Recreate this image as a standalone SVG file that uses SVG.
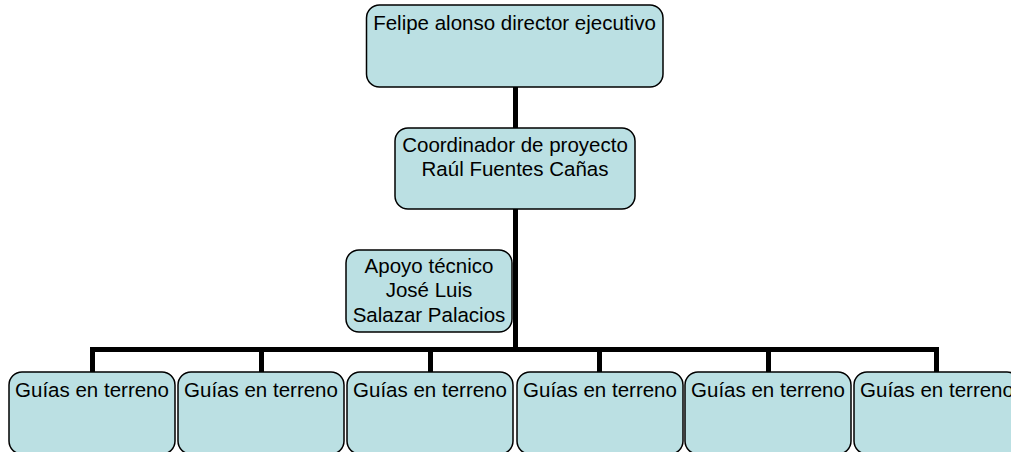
<svg xmlns="http://www.w3.org/2000/svg" width="1011" height="452" viewBox="0 0 1011 452">
<style>
.box{fill:#BBE0E3;stroke:#000;stroke-width:1.5}
.t{font-family:"Liberation Sans",Arial,sans-serif;font-size:20.5px;fill:#000;text-anchor:middle}
.c{stroke:#000;stroke-width:5;fill:none}
</style>
<rect width="1011" height="452" fill="#fff"/>
<g id="connectors">
<line class="c" x1="515.5" y1="87" x2="515.5" y2="352"/>
<line class="c" x1="92.5" y1="349.5" x2="936.5" y2="349.5"/>
<line class="c" x1="92.5" y1="347" x2="92.5" y2="372"/>
<line class="c" x1="261.5" y1="347" x2="261.5" y2="372"/>
<line class="c" x1="430.5" y1="347" x2="430.5" y2="372"/>
<line class="c" x1="599.5" y1="347" x2="599.5" y2="372"/>
<line class="c" x1="768.5" y1="347" x2="768.5" y2="372"/>
<line class="c" x1="936.5" y1="347" x2="936.5" y2="372"/>
</g>
<g id="director">
<rect class="box" x="366.5" y="5" width="296.5" height="82" rx="13"/>
<text class="t" x="514.5" y="30">Felipe alonso director ejecutivo</text>
</g>
<g id="coordinador">
<rect class="box" x="395" y="128" width="240" height="81" rx="13"/>
<text class="t" x="515" y="152">Coordinador de proyecto</text>
<text class="t" x="515" y="176">Raúl Fuentes Cañas</text>
</g>
<g id="apoyo">
<rect class="box" x="346" y="250" width="166" height="82" rx="13"/>
<text class="t" x="429" y="273">Apoyo técnico</text>
<text class="t" x="429" y="297">José Luis</text>
<text class="t" x="429" y="322">Salazar Palacios</text>
</g>
<g id="guia1">
<rect class="box" x="9" y="372" width="166" height="82" rx="13"/>
<text class="t" x="92" y="397">Guías en terreno</text>
</g>
<g id="guia2">
<rect class="box" x="178" y="372" width="166" height="82" rx="13"/>
<text class="t" x="261" y="397">Guías en terreno</text>
</g>
<g id="guia3">
<rect class="box" x="347" y="372" width="166" height="82" rx="13"/>
<text class="t" x="430" y="397">Guías en terreno</text>
</g>
<g id="guia4">
<rect class="box" x="517" y="372" width="166" height="82" rx="13"/>
<text class="t" x="600" y="397">Guías en terreno</text>
</g>
<g id="guia5">
<rect class="box" x="685" y="372" width="166" height="82" rx="13"/>
<text class="t" x="768" y="397">Guías en terreno</text>
</g>
<g id="guia6">
<rect class="box" x="854" y="372" width="166" height="82" rx="13"/>
<text class="t" x="937" y="397">Guías en terreno</text>
</g>
</svg>
